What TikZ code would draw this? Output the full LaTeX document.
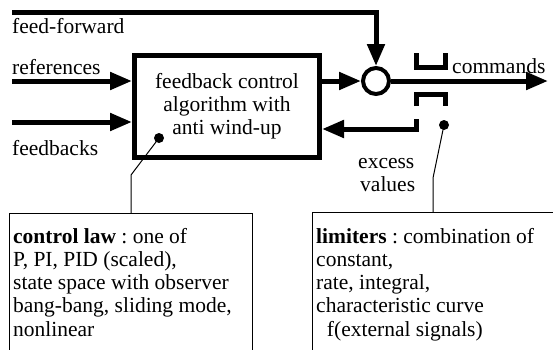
\documentclass[tikz,border=0pt]{standalone}
\usepackage{fontspec}
\setmainfont{Liberation Serif}
\usetikzlibrary{arrows.meta}
\frenchspacing
\begin{document}
\begin{tikzpicture}[x=1pt,y=-1pt,
  every node/.style={font=\fontsize{21.5}{23.2}\selectfont, inner sep=0pt},
  heavy/.style={line width=5pt, line join=miter},
  bigtip/.style={-{Triangle[length=22pt,width=17pt]}},
  leader/.style={line width=1pt},
  dot/.style={circle, fill=black, minimum size=10pt},
  lbl/.style={anchor=base west},
  notebox/.style={draw, line width=1pt, anchor=north west, minimum height=160pt,
    minimum width=#1},
  notetext/.style={anchor=north west, align=left}]
\useasboundingbox (0,0) rectangle (553,349);
\clip (0,0) rectangle (553,349);

% controller block and summing junction
\node[draw, line width=5pt, minimum width=185pt, minimum height=102pt, align=center]
  (ctrl) at (227,106.5) {feedback control\\algorithm with\\anti wind-up};
\node[circle, draw, line width=4pt, minimum size=26pt] (sum) at (376,81) {};

% signal labels
\node[lbl] (ffl) at (12,33) {feed-forward};
\node[lbl] (refl) at (12,74) {references};
\node[lbl] (fbl) at (12,155) {feedbacks};
\node[lbl] (cmdl) at (452,73) {commands};
\node[lbl] (exl) at (358,168) {excess};
\node[lbl] (vall) at (360,191) {values};

% signal paths
\coordinate (ff0) at (12,12);
\coordinate (ref0) at (12,81);
\coordinate (fb0) at (12,122);
\coordinate (cmd1) at (548,81);
\draw[heavy, bigtip] (ff0) -- (ff0 -| sum) -- (sum.north);
\draw[heavy, bigtip] (ref0) -- (ref0 -| ctrl.west);
\draw[heavy, bigtip] (fb0) -- (fb0 -| ctrl.west);
\draw[heavy, bigtip] (ctrl.east |- sum) -- (sum.west);
\draw[heavy, bigtip] (sum.east) -- (cmd1);

% limiter contacts
\coordinate (ua) at (416,53);
\coordinate (ub) at (445,67);
\coordinate (la) at (416,106);
\coordinate (lb) at (445,94);
\draw[heavy] (ua) -- (ua |- ub) -- (ub) -- (ub |- ua);
\draw[heavy] (la) -- (la |- lb) -- (lb) -- (lb |- la);

% excess-value feedback
\coordinate (ret0) at (416,119);
\coordinate (ret1) at (416,129);
\draw[heavy, bigtip] (ret0) -- (ret1) -- (ret1 -| ctrl.east);

% annotation boxes (open towards the bottom edge)
\node[notebox=243pt] (law) at (9,213) {};
\node[notetext] (lawtxt) at (13,228)
  {\textbf{control law} : one of\\P, PI, PID (scaled),\\state space with observer\\bang-bang, sliding mode,\\nonlinear};
\node[notebox=320pt] (lim) at (312,212) {};
\node[notetext] (limtxt) at (316,228)
  {\textbf{limiters} : combination of\\constant,\\rate, integral,\\characteristic curve\\\ \ f(external signals)};

% leaders
\node[dot] (dl) at (159,138) {};
\node[dot] (dr) at (444,125) {};
\coordinate (kl) at (131,175);
\coordinate (kr) at (433,178);
\draw[leader] (dl.center) -- (kl) -- (kl |- law.north);
\draw[leader] (dr.center) -- (kr) -- (kr |- lim.north);
\end{tikzpicture}
\end{document}
